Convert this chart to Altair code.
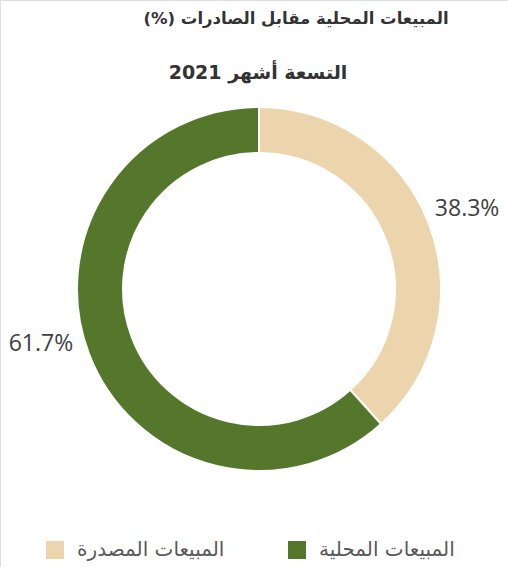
import altair as alt
import pandas as pd

categories = ["المبيعات المصدرة", "المبيعات المحلية"]
values = [38.3, 61.7]
labels = ["38.3%", "61.7%"]
orders = [1, 2]
colors = ["#ECD5AC", "#55772B"]
title_line1 = "المبيعات المحلية مقابل الصادرات (%)\u200F"
title_line2 = "التسعة أشهر 2021"

df = pd.DataFrame({"category": categories, "value": values, "label": labels, "order": orders})

CX, CY = 259, 289

color_scale = alt.Scale(domain=categories, range=colors)

base = alt.Chart(df)

arc = base.mark_arc(outerRadius=182, innerRadius=136, stroke="white", strokeWidth=2).encode(
    theta=alt.Theta("value:Q", stack=True, scale=alt.Scale(domain=[0, 100])),
    color=alt.Color(
        "category:N",
        scale=color_scale,
        sort=categories,
        legend=alt.Legend(
            title=None,
            orient="none",
            direction="horizontal",
            legendX=45,
            legendY=540,
            symbolType="square",
            symbolSize=324,
            symbolStrokeWidth=0,
            symbolOpacity=1,
            labelFont="DejaVu Sans",
            labelFontSize=20,
            labelColor="#595959",
            labelOffset=12,
            columnPadding=62,
            padding=0,
        ),
    ),
    order=alt.Order("order:Q"),
    x=alt.value(CX),
    y=alt.value(CY),
)

label_base = base.transform_window(
    cum="sum(value)", sort=[alt.SortField("order")]
).transform_calculate(mid="datum.cum - datum.value / 2")

def label_layer(cat, dx, dy):
    return label_base.transform_filter(alt.datum.category == cat).mark_text(
        radius=223, font="Open Sans", fontSize=23, color="#404040", dx=dx, dy=dy
    ).encode(
        theta=alt.Theta("mid:Q", stack=None, scale=alt.Scale(domain=[0, 100])),
        text="label:N",
        x=alt.value(CX),
        y=alt.value(CY),
    )

lab1 = label_layer(categories[0], 0, 0)
lab2 = label_layer(categories[1], -10, -25)

t1 = alt.Chart(pd.DataFrame({"t": [title_line1]})).mark_text(
    font="DejaVu Sans", fontSize=16.5, fontWeight="bold", color="#333333", align="center", baseline="middle"
).encode(text="t:N", x=alt.value(296), y=alt.value(19))

t2 = alt.Chart(pd.DataFrame({"t": [title_line2]})).mark_text(
    font="DejaVu Sans", fontSize=19, fontWeight="bold", color="#333333", align="center", baseline="middle"
).encode(text="t:N", x=alt.value(258), y=alt.value(73))

chart = alt.layer(arc, lab1, lab2, t1, t2).properties(
    width=508, height=567, autosize=alt.AutoSizeParams(type="none"), padding=0
).configure_view(stroke=None).configure(background="white")

chart.save("out.html", embed_options={"renderer": "svg", "actions": False})
